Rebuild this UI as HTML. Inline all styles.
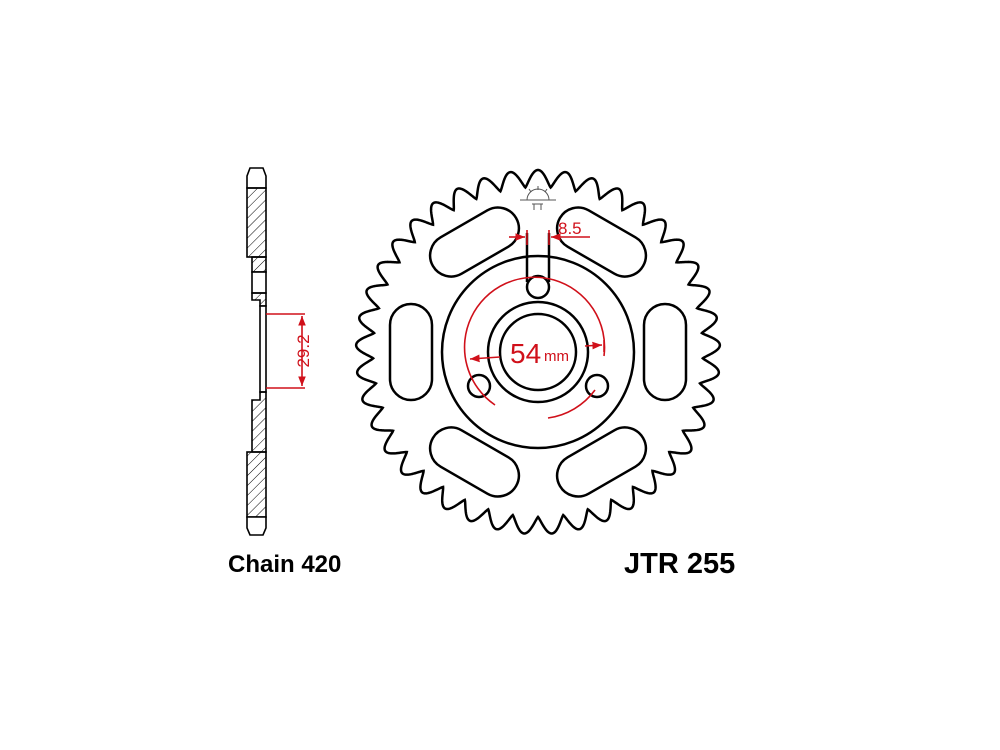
<!DOCTYPE html>
<html><head><meta charset="utf-8"><style>
html,body{margin:0;padding:0;background:#fff;}
svg{display:block}
</style></head><body>
<svg id="s" width="1000" height="750" viewBox="0 0 1000 750" xmlns="http://www.w3.org/2000/svg">
<defs>
<pattern id="h" width="7" height="7" patternUnits="userSpaceOnUse" patternTransform="rotate(45)">
<line x1="0" y1="0" x2="0" y2="7" stroke="#000" stroke-width="1"/>
</pattern>
<marker id="a" viewBox="0 0 10 10" refX="10" refY="5" markerWidth="6" markerHeight="6" orient="auto-start-reverse"><path d="M0,1 L10,5 L0,9 z" fill="#d0101a"/></marker>
</defs>
<g fill="none" stroke="#000" stroke-width="2.5">
<path id="gear"/>
<circle cx="538" cy="352" r="96"/>
<circle cx="538" cy="352" r="50"/>
<circle cx="538" cy="352" r="38"/>
<circle cx="538" cy="287" r="11"/>
<circle cx="479" cy="386" r="11"/>
<circle cx="597" cy="386" r="11"/>
<line x1="527" y1="233" x2="527" y2="282"/>
<line x1="549" y1="233" x2="549" y2="282"/>
<g id="slots"></g>
</g>
<!-- side view -->
<g stroke="#000" stroke-width="1.6">
<path d="M250,168 L263,168 L266,176 L266,188 L247,188 L247,176 Z" fill="#fff"/>
<rect x="247" y="188" width="19" height="69" fill="url(#h)"/>
<rect x="252" y="257" width="14" height="15" fill="url(#h)"/>
<rect x="252" y="272" width="14" height="21" fill="#fff"/>
<path d="M252,293 L266,293 L266,306 L260,306 L260,300 L252,300 Z" fill="url(#h)"/>
<rect x="260" y="306" width="6" height="86" fill="#fff"/>
<path d="M252,400 L260,400 L260,392 L266,392 L266,452 L252,452 Z" fill="url(#h)"/>
<rect x="247" y="452" width="19" height="65" fill="url(#h)"/>
<path d="M247,517 L266,517 L266,528 L263,535 L250,535 L247,528 Z" fill="#fff"/>
</g>
<g stroke="#d0101a" stroke-width="1.6" fill="none">
<line x1="266" y1="314" x2="305" y2="314"/>
<line x1="266" y1="388" x2="305" y2="388"/>
<line x1="302" y1="330" x2="302" y2="316" marker-end="url(#a)"/>
<line x1="302" y1="372" x2="302" y2="386" marker-end="url(#a)"/>
<line x1="302" y1="330" x2="302" y2="372"/>
<line x1="509" y1="237" x2="525" y2="237" marker-end="url(#a)"/>
<line x1="590" y1="237" x2="551" y2="237" marker-end="url(#a)"/>
<line x1="527" y1="230" x2="527" y2="245"/>
<line x1="549" y1="230" x2="549" y2="245"/>
<path d="M495,405 A70,70 0 1 1 604,356"/>
<line x1="604" y1="340" x2="604" y2="352"/>
<line x1="500" y1="357" x2="470" y2="359" marker-end="url(#a)"/>
<line x1="585" y1="346" x2="602" y2="345" marker-end="url(#a)"/>
<path d="M548,418 A70,70 0 0 0 595,390"/>
</g>
<g font-family="Liberation Sans, sans-serif" fill="#d0101a">
<text x="558" y="234" font-size="17">8.5</text>
<text x="510" y="363" font-size="28">54</text>
<text x="544" y="361" font-size="15">mm</text>
<text transform="translate(309,351) rotate(-90)" font-size="17" text-anchor="middle">29.2</text>
</g>
<g stroke="#555" stroke-width="1" fill="none">
<path d="M527,200 A11,11 0 0 1 549,200"/>
<line x1="520" y1="200" x2="556" y2="200"/>
<line x1="538" y1="186" x2="538" y2="190"/><line x1="529" y1="189" x2="531" y2="192"/><line x1="547" y1="189" x2="545" y2="192"/>
<line x1="534" y1="204" x2="534" y2="210"/><line x1="541" y1="204" x2="541" y2="210"/><line x1="532" y1="204" x2="543" y2="204"/>
</g>
<g font-family="Liberation Sans, sans-serif" font-weight="bold" fill="#000">
<text x="228" y="572" font-size="24">Chain 420</text>
<text x="624" y="573" font-size="29">JTR 255</text>
</g>
</svg>
<script>
(function(){
var cx=538,cy=352,N=41,rt=182,rr=165,d="";
var M=N*48;
for(var i=0;i<=M;i++){
 var t=i/M, ang=-Math.PI/2+t*2*Math.PI;
 var ph=(t*N)%1;
 var c=0.5+0.5*Math.cos(2*Math.PI*ph);
 var f=Math.pow(c,0.6);
 var r=rr+(rt-rr)*f;
 d+=(i?"L":"M")+(cx+r*Math.cos(ang)).toFixed(2)+","+(cy+r*Math.sin(ang)).toFixed(2);
}
document.getElementById("gear").setAttribute("d",d+"Z");
var g=document.getElementById("slots"),s="";
for(var k=0;k<6;k++){
 var a=k*60, rad=a*Math.PI/180;
 var x0=cx+127*Math.cos(rad), y0=cy+127*Math.sin(rad);
 s+='<rect x="'+(x0-21)+'" y="'+(y0-48)+'" width="42" height="96" rx="21" ry="21" transform="rotate('+a+' '+x0+' '+y0+')"/>';
}
g.innerHTML=s;
})();
</script>
</body></html>
